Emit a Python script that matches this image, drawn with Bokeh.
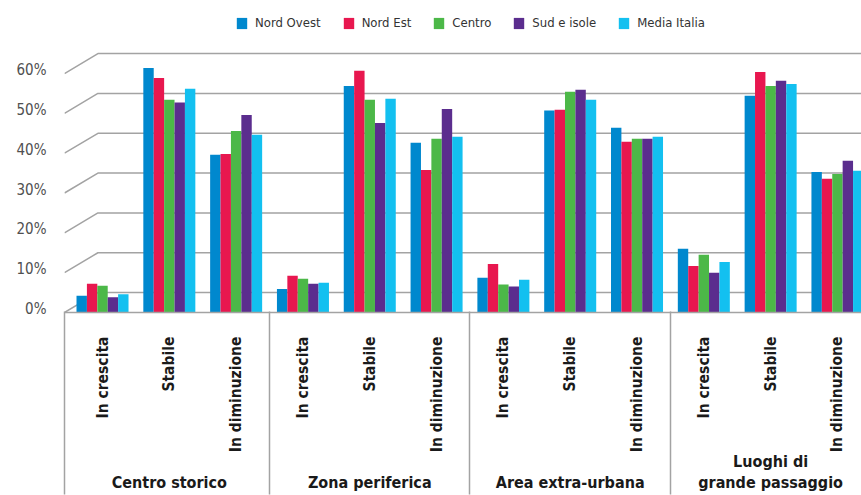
import math
from bokeh.plotting import figure
from bokeh.models import (ColumnDataSource, Range1d, FixedTicker, LinearAxis,
                          Legend, LegendItem, PrintfTickFormatter)
from bokeh.transform import dodge
from bokeh.embed import file_html
from bokeh.resources import INLINE

# ---------------- data ----------------
groups = ["Centro storico", "Zona periferica", "Area extra-urbana", "Luoghi di\ngrande passaggio"]
subcats = ["In crescita", "Stabile", "In diminuzione"]
series = ["Nord Ovest", "Nord Est", "Centro", "Sud e isole", "Media Italia"]
colors = ["#0088CE", "#E8174F", "#4CB848", "#5B2D8E", "#13C0F0"]

nord_ovest   = [4.2, 61.4, 39.6,   5.9, 56.9, 42.6,   8.7, 50.7, 46.4,   16.0, 54.4, 35.3]
nord_est     = [7.2, 58.9, 39.8,   9.2, 60.7, 35.8,  12.2, 50.9, 42.9,   11.7, 60.4, 33.6]
centro       = [6.7, 53.4, 45.6,   8.5, 53.4, 43.6,   7.0, 55.4, 43.6,   14.5, 56.9, 34.8]
sud_e_isole  = [3.8, 52.7, 49.6,   7.2, 47.6, 51.1,   6.5, 55.9, 43.6,   10.0, 58.2, 38.1]
media_italia = [4.6, 56.2, 44.6,   7.5, 53.7, 44.1,   8.2, 53.4, 44.1,   12.7, 57.4, 35.6]

y_ticks = [0, 10, 20, 30, 40, 50, 60]

# ---------------- style ----------------
FONT = "DejaVu Sans Condensed"
GRID = "#a3a3a3"

n_sub = len(subcats)
n_cat = len(groups) * n_sub
x_idx = list(range(n_cat))

X0, X1 = -0.569, 11.36
Y1 = 76.33
DX, DY = 0.5, 5.0   # depth offset of the back wall
BOTTOM = 183

source = ColumnDataSource(dict(
    x=x_idx,
    nord_ovest=nord_ovest, nord_est=nord_est, centro=centro,
    sud_e_isole=sud_e_isole, media_italia=media_italia,
))
fields = ["nord_ovest", "nord_est", "centro", "sud_e_isole", "media_italia"]

p = figure(width=861, height=495, output_backend="svg", toolbar_location=None,
           x_range=Range1d(X0, X1), y_range=Range1d(0, Y1),
           x_axis_location=None, y_axis_location=None,
           min_border_left=64, min_border_right=0, min_border_top=8,
           min_border_bottom=BOTTOM)
p.outline_line_color = None
p.xgrid.visible = False
p.ygrid.visible = False

# pseudo-3D gridlines
xs, ys = [], []
for v in y_ticks:
    xs.append([X0, X0 + DX, X1 + 1])
    ys.append([v, v + DY, v + DY])
p.multi_line(xs, ys, line_color=GRID, line_width=1.5)

# bars
bw = 0.1557
renderers = []
for j, (f, c) in enumerate(zip(fields, colors)):
    r = p.vbar(x=dodge("x", (j - 2) * bw, range=p.x_range), top=f, width=bw,
               source=source, fill_color=c, line_color=None)
    renderers.append(r)

# y axis
p.extra_y_ranges = {"lab": Range1d(-0.88, Y1 - 0.88)}
yax = LinearAxis(y_range_name="lab", ticker=FixedTicker(ticks=y_ticks),
                 formatter=PrintfTickFormatter(format="%d%%"))
yax.axis_line_color = None
yax.major_tick_line_color = None
yax.minor_tick_line_color = None
yax.major_label_standoff = 12
yax.major_label_text_font = FONT
yax.major_label_text_font_size = "15px"
yax.major_label_text_color = "#505050"
p.add_layout(yax, "left")

# x axis 1: sub-categories
xax = LinearAxis(ticker=FixedTicker(ticks=x_idx))
xax.major_label_overrides = {i: subcats[i % n_sub] for i in x_idx}
xax.major_label_orientation = math.pi / 2
xax.major_tick_in = 0
xax.major_tick_out = 0
xax.minor_tick_line_color = None
xax.axis_line_color = GRID
xax.axis_line_width = 1.5
xax.major_label_standoff = 24
xax.major_label_text_font = FONT
xax.major_label_text_font_style = "bold"
xax.major_label_text_font_size = "15.5px"
xax.major_label_text_color = "#1a1a1a"
p.add_layout(xax, "below")

# x axis 2: groups
centers = [k * n_sub + (n_sub - 1) / 2 for k in range(len(groups))]
gax = LinearAxis(ticker=FixedTicker(ticks=centers))
gax.major_label_overrides = {c: (g if "\n" in g else "\n" + g) for c, g in zip(centers, groups)}
gax.axis_line_color = None
gax.major_tick_line_color = None
gax.minor_tick_line_color = None
gax.major_label_standoff = -10
gax.major_label_text_font = FONT
gax.major_label_text_font_style = "bold"
gax.major_label_text_font_size = "16px"
gax.major_label_text_line_height = 1.13
gax.major_label_text_color = "#1a1a1a"
p.add_layout(gax, "below")

# x axis 3: no labels, its inward ticks are the group separators
sep = [X0 + 0.003] + [k * n_sub - 0.5 for k in range(1, len(groups))]
sax = LinearAxis(ticker=FixedTicker(ticks=sep))
sax.major_label_overrides = {s: "" for s in sep}
sax.major_label_standoff = 0
sax.axis_line_color = None
sax.major_tick_out = 0
sax.major_tick_in = BOTTOM
sax.major_tick_line_color = GRID
sax.major_tick_line_width = 1.5
sax.minor_tick_line_color = None
p.add_layout(sax, "below")

# legend (inside the frame, above the back wall)
legend = Legend(items=[LegendItem(label=s, renderers=[r]) for s, r in zip(series, renderers)],
                orientation="horizontal", location=(171, 282))
legend.glyph_width = 13
legend.glyph_height = 14
legend.label_standoff = 7
legend.spacing = 21
legend.padding = 2
legend.margin = 0
legend.border_line_color = None
legend.background_fill_alpha = 0
legend.label_text_font = FONT
legend.label_text_font_size = "13px"
legend.label_text_color = "#333333"
p.add_layout(legend)

open("out.html", "w").write(file_html(p, INLINE))
